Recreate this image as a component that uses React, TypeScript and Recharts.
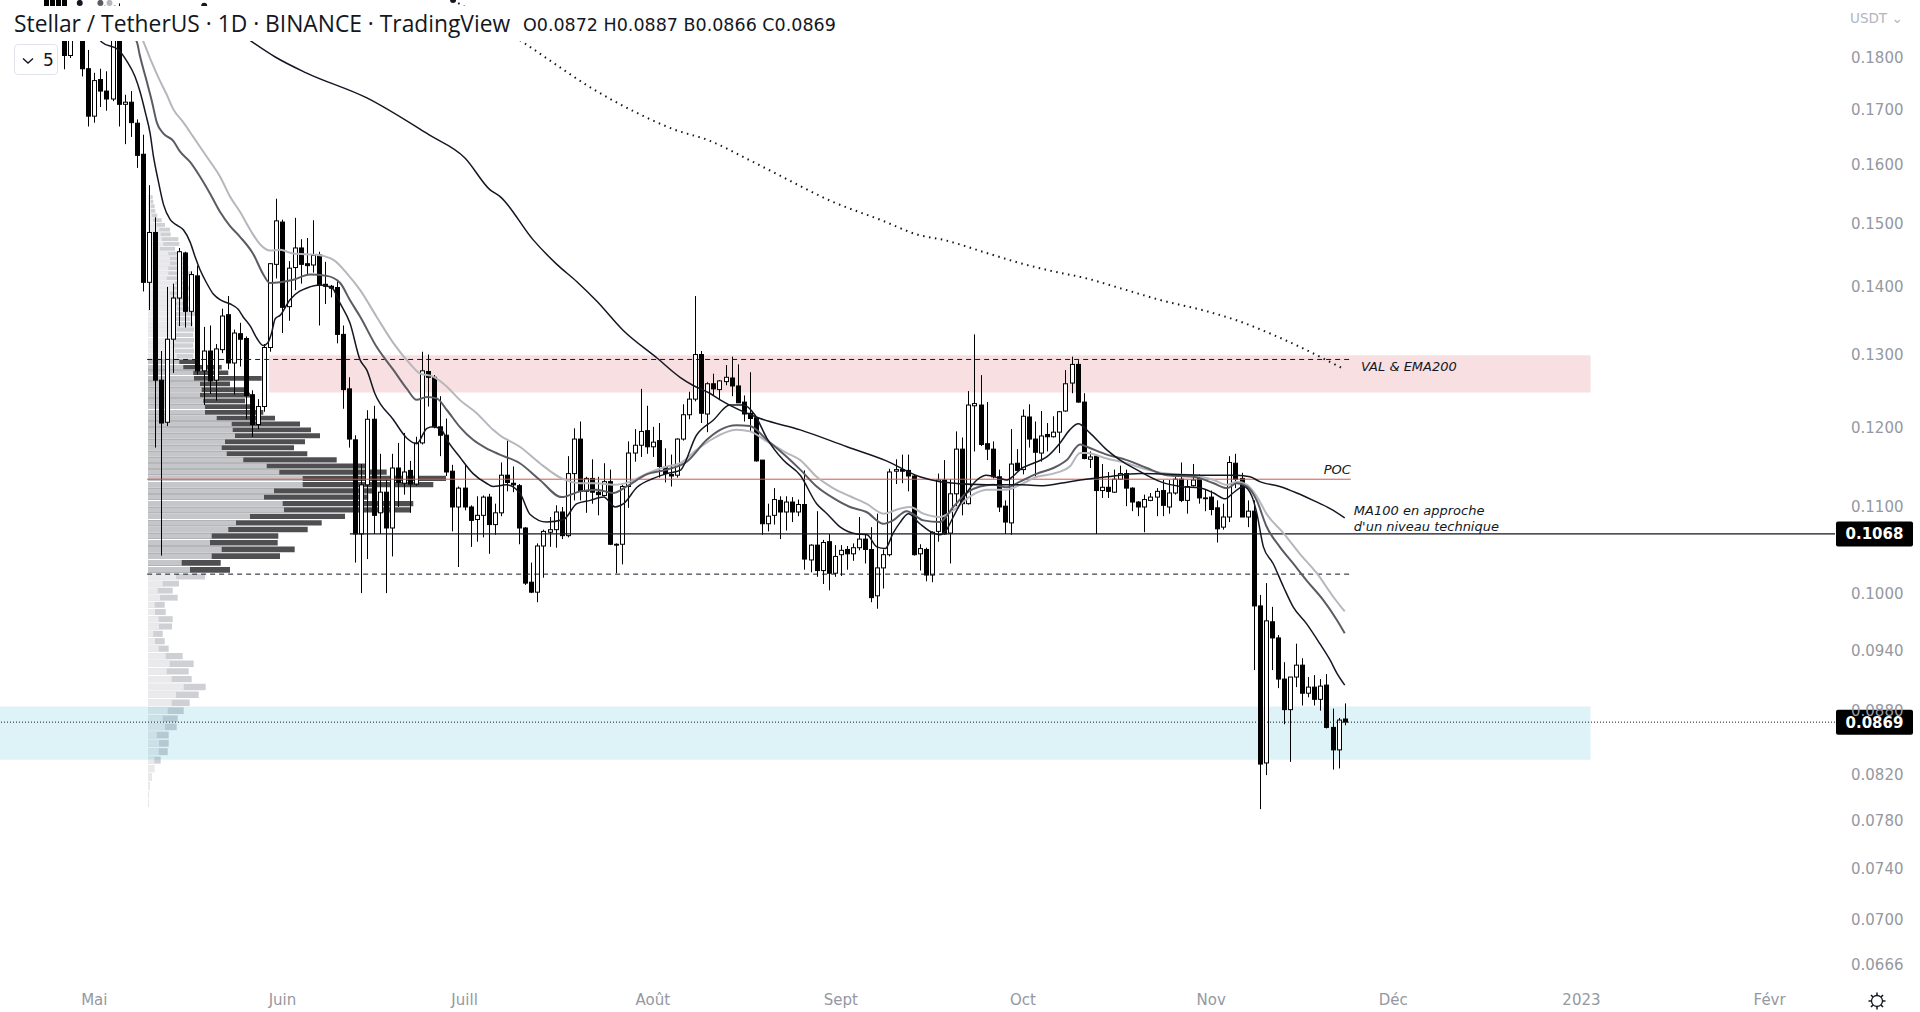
import React from 'react';
import { ComposedChart, Bar, Line, XAxis, YAxis, ReferenceArea, ReferenceLine, ReferenceDot } from 'recharts';

// ---------- DATA (days counted from 1 May 2022) ----------
const FIRST_DAY = -8;
const OPEN = [
  0.1990, 0.1995, 0.1985,
  0.1965, 0.1804, 0.1865, 0.1895, 0.1778,
  0.1688, 0.1757, 0.1735, 0.1720, 0.1895, 0.1710, 0.1714, 0.1675, 0.1619, 0.1407,
  0.1486, 0.1264, 0.1207, 0.1322, 0.1383, 0.1453, 0.1363, 0.1417, 0.1277, 0.1305,
  0.1264, 0.1307, 0.1358, 0.1288, 0.1330, 0.1323, 0.1244, 0.1204, 0.1228, 0.1310,
  0.1435, 0.1503, 0.1370, 0.1430, 0.1461, 0.1436, 0.1434, 0.1450, 0.1404, 0.1401,
  0.1399, 0.1329, 0.1252, 0.1184, 0.1068, 0.1127, 0.1211, 0.1093, 0.1118, 0.1075,
  0.1148, 0.1129, 0.1145, 0.1128, 0.1180, 0.1276, 0.1268, 0.1201, 0.1190, 0.1144,
  0.1100, 0.1123, 0.1100, 0.1085, 0.1090, 0.1112, 0.1079, 0.1093, 0.1139, 0.1129,
  0.1126, 0.1075, 0.1013, 0.1002, 0.1054, 0.1070, 0.1073, 0.1094, 0.1066, 0.1141,
  0.1185, 0.1119, 0.1135, 0.1118, 0.1114, 0.1131, 0.1056, 0.1056, 0.1125, 0.1167,
  0.1177, 0.1196, 0.1175, 0.1183, 0.1149, 0.1140, 0.1139, 0.1185, 0.1217, 0.1238,
  0.1300, 0.1218, 0.1259, 0.1251, 0.1262, 0.1267, 0.1256, 0.1234, 0.1219, 0.1213,
  0.1158, 0.1080, 0.1090, 0.1108, 0.1094, 0.1106, 0.1094, 0.1103, 0.1038, 0.1055,
  0.1026, 0.1059, 0.1023, 0.1044, 0.1050, 0.1045, 0.1052, 0.1062, 0.1050, 0.0998,
  0.1029, 0.1044, 0.1144, 0.1146, 0.1145, 0.1138, 0.1045, 0.1050, 0.1021, 0.1071,
  0.1133, 0.1069, 0.1116, 0.1172, 0.1104, 0.1229, 0.1230, 0.1179, 0.1172, 0.1137,
  0.1101, 0.1081, 0.1154, 0.1146, 0.1214, 0.1185, 0.1167, 0.1191, 0.1188, 0.1194,
  0.1222, 0.1260, 0.1286, 0.1234, 0.1159, 0.1163, 0.1120, 0.1124, 0.1118, 0.1134,
  0.1141, 0.1123, 0.1106, 0.1100, 0.1108, 0.1112, 0.1120, 0.1100, 0.1117, 0.1134,
  0.1108, 0.1126, 0.1135, 0.1111, 0.1112, 0.1099, 0.1076, 0.1088, 0.1154, 0.1135,
  0.1088, 0.1095, 0.0987, 0.0831, 0.0970, 0.0953, 0.0911, 0.0881, 0.0913, 0.0925,
  0.0897, 0.0903, 0.0891, 0.0905, 0.0864, 0.0843, 0.0872,
];
const HIGH = [
  0.2010, 0.2005, 0.2000,
  0.1990, 0.1885, 0.1903, 0.1900, 0.1815,
  0.1770, 0.1778, 0.1773, 0.1915, 0.1910, 0.1728, 0.1735, 0.1682, 0.1654, 0.1565,
  0.1511, 0.1305, 0.1400, 0.1405, 0.1461, 0.1455, 0.1424, 0.1433, 0.1340, 0.1342,
  0.1315, 0.1367, 0.1386, 0.1336, 0.1346, 0.1326, 0.1250, 0.1238, 0.1315, 0.1437,
  0.1542, 0.1507, 0.1440, 0.1510, 0.1475, 0.1477, 0.1506, 0.1455, 0.1439, 0.1403,
  0.1411, 0.1342, 0.1268, 0.1190, 0.1153, 0.1223, 0.1229, 0.1166, 0.1134, 0.1166,
  0.1180, 0.1193, 0.1157, 0.1188, 0.1304, 0.1300, 0.1271, 0.1242, 0.1212, 0.1152,
  0.1125, 0.1153, 0.1102, 0.1113, 0.1114, 0.1116, 0.1104, 0.1155, 0.1184, 0.1150,
  0.1128, 0.1076, 0.1035, 0.1057, 0.1073, 0.1088, 0.1102, 0.1100, 0.1163, 0.1199,
  0.1208, 0.1137, 0.1159, 0.1137, 0.1154, 0.1146, 0.1057, 0.1127, 0.1182, 0.1198,
  0.1252, 0.1229, 0.1201, 0.1206, 0.1173, 0.1165, 0.1186, 0.1231, 0.1248, 0.1386,
  0.1305, 0.1261, 0.1273, 0.1264, 0.1285, 0.1297, 0.1286, 0.1243, 0.1275, 0.1214,
  0.1158, 0.1104, 0.1123, 0.1113, 0.1113, 0.1112, 0.1109, 0.1145, 0.1056, 0.1095,
  0.1061, 0.1068, 0.1055, 0.1055, 0.1054, 0.1057, 0.1088, 0.1067, 0.1076, 0.1092,
  0.1050, 0.1147, 0.1159, 0.1165, 0.1165, 0.1139, 0.1056, 0.1052, 0.1071, 0.1141,
  0.1158, 0.1134, 0.1195, 0.1187, 0.1249, 0.1329, 0.1271, 0.1234, 0.1182, 0.1146,
  0.1108, 0.1198, 0.1172, 0.1224, 0.1231, 0.1208, 0.1222, 0.1206, 0.1215, 0.1222,
  0.1278, 0.1297, 0.1292, 0.1246, 0.1169, 0.1164, 0.1153, 0.1143, 0.1146, 0.1151,
  0.1146, 0.1124, 0.1107, 0.1115, 0.1117, 0.1123, 0.1133, 0.1133, 0.1139, 0.1155,
  0.1133, 0.1153, 0.1140, 0.1121, 0.1120, 0.1108, 0.1104, 0.1163, 0.1166, 0.1142,
  0.1108, 0.1108, 0.0999, 0.1012, 0.0986, 0.0956, 0.0928, 0.0913, 0.0947, 0.0932,
  0.0913, 0.0915, 0.0911, 0.0916, 0.0882, 0.0873, 0.0887,
];
const LOW = [
  0.1875, 0.1880, 0.1870,
  0.1777, 0.1799, 0.1850, 0.1763, 0.1669,
  0.1676, 0.1705, 0.1698, 0.1716, 0.1669, 0.1637, 0.1650, 0.1595, 0.1393, 0.1365,
  0.1174, 0.1043, 0.1202, 0.1274, 0.1341, 0.1339, 0.1341, 0.1272, 0.1230, 0.1245,
  0.1236, 0.1302, 0.1279, 0.1244, 0.1283, 0.1211, 0.1188, 0.1198, 0.1221, 0.1304,
  0.1413, 0.1331, 0.1349, 0.1395, 0.1405, 0.1420, 0.1422, 0.1342, 0.1374, 0.1384,
  0.1316, 0.1225, 0.1174, 0.1035, 0.1001, 0.1039, 0.1068, 0.1068, 0.1001, 0.1042,
  0.1100, 0.1115, 0.1093, 0.1126, 0.1178, 0.1228, 0.1199, 0.1163, 0.1138, 0.1071,
  0.1030, 0.1096, 0.1053, 0.1059, 0.1064, 0.1045, 0.1067, 0.1089, 0.1119, 0.1118,
  0.1056, 0.1010, 0.1001, 0.0991, 0.1018, 0.1053, 0.1052, 0.1062, 0.1064, 0.1108,
  0.1108, 0.1093, 0.1104, 0.1090, 0.1113, 0.1055, 0.1023, 0.1033, 0.1099, 0.1156,
  0.1162, 0.1166, 0.1162, 0.1136, 0.1130, 0.1125, 0.1136, 0.1183, 0.1211, 0.1235,
  0.1206, 0.1194, 0.1243, 0.1238, 0.1257, 0.1242, 0.1233, 0.1208, 0.1195, 0.1156,
  0.1067, 0.1071, 0.1079, 0.1062, 0.1072, 0.1082, 0.1089, 0.1027, 0.1024, 0.1019,
  0.1011, 0.1004, 0.1019, 0.1020, 0.1027, 0.1037, 0.1049, 0.1034, 0.0991, 0.0984,
  0.1006, 0.1042, 0.1128, 0.1129, 0.1119, 0.1043, 0.1026, 0.1014, 0.1013, 0.1059,
  0.1067, 0.1034, 0.1101, 0.1090, 0.1103, 0.1169, 0.1176, 0.1158, 0.1135, 0.1094,
  0.1068, 0.1067, 0.1144, 0.1140, 0.1174, 0.1137, 0.1156, 0.1169, 0.1187, 0.1167,
  0.1221, 0.1246, 0.1233, 0.1159, 0.1148, 0.1068, 0.1111, 0.1111, 0.1117, 0.1133,
  0.1101, 0.1095, 0.1089, 0.1070, 0.1107, 0.1089, 0.1089, 0.1092, 0.1115, 0.1106,
  0.1092, 0.1125, 0.1104, 0.1095, 0.1090, 0.1058, 0.1073, 0.1082, 0.1123, 0.1088,
  0.1076, 0.0920, 0.0790, 0.0820, 0.0920, 0.0902, 0.0867, 0.0832, 0.0903, 0.0885,
  0.0893, 0.0885, 0.0880, 0.0863, 0.0825, 0.0826, 0.0866,
];
const CLOSE = [
  0.1900, 0.1902, 0.1895,
  0.1804, 0.1865, 0.1895, 0.1778, 0.1688,
  0.1755, 0.1735, 0.1720, 0.1895, 0.1710, 0.1714, 0.1676, 0.1617, 0.1407, 0.1486,
  0.1264, 0.1206, 0.1322, 0.1383, 0.1455, 0.1363, 0.1419, 0.1277, 0.1305, 0.1263,
  0.1308, 0.1356, 0.1288, 0.1331, 0.1322, 0.1243, 0.1204, 0.1228, 0.1310, 0.1436,
  0.1505, 0.1369, 0.1429, 0.1461, 0.1435, 0.1433, 0.1449, 0.1403, 0.1401, 0.1398,
  0.1329, 0.1251, 0.1185, 0.1068, 0.1127, 0.1211, 0.1090, 0.1118, 0.1075, 0.1148,
  0.1130, 0.1143, 0.1128, 0.1180, 0.1277, 0.1268, 0.1201, 0.1190, 0.1143, 0.1100,
  0.1123, 0.1100, 0.1084, 0.1090, 0.1112, 0.1079, 0.1093, 0.1139, 0.1130, 0.1127,
  0.1075, 0.1012, 0.1002, 0.1054, 0.1071, 0.1073, 0.1094, 0.1066, 0.1141, 0.1185,
  0.1119, 0.1135, 0.1118, 0.1115, 0.1131, 0.1056, 0.1055, 0.1125, 0.1167, 0.1177,
  0.1195, 0.1175, 0.1181, 0.1150, 0.1141, 0.1138, 0.1185, 0.1217, 0.1238, 0.1300,
  0.1219, 0.1259, 0.1252, 0.1263, 0.1268, 0.1256, 0.1233, 0.1218, 0.1212, 0.1157,
  0.1080, 0.1089, 0.1109, 0.1094, 0.1106, 0.1094, 0.1103, 0.1039, 0.1055, 0.1026,
  0.1058, 0.1023, 0.1042, 0.1049, 0.1045, 0.1052, 0.1062, 0.1050, 0.0996, 0.1029,
  0.1044, 0.1143, 0.1146, 0.1144, 0.1138, 0.1044, 0.1051, 0.1021, 0.1070, 0.1133,
  0.1068, 0.1116, 0.1172, 0.1104, 0.1230, 0.1232, 0.1178, 0.1172, 0.1137, 0.1100,
  0.1082, 0.1153, 0.1145, 0.1215, 0.1185, 0.1168, 0.1189, 0.1188, 0.1194, 0.1221,
  0.1259, 0.1286, 0.1234, 0.1160, 0.1162, 0.1120, 0.1124, 0.1119, 0.1134, 0.1141,
  0.1123, 0.1106, 0.1100, 0.1109, 0.1112, 0.1119, 0.1102, 0.1117, 0.1134, 0.1108,
  0.1125, 0.1133, 0.1111, 0.1110, 0.1097, 0.1074, 0.1088, 0.1155, 0.1134, 0.1088,
  0.1095, 0.0987, 0.0830, 0.0971, 0.0953, 0.0911, 0.0881, 0.0913, 0.0925, 0.0897,
  0.0903, 0.0891, 0.0904, 0.0864, 0.0843, 0.0871, 0.0869,
];

// moving averages: [day, price]
const EMA_FAST: [number, number][] = [
  [-2.4,0.1911],[1.2,0.1831],[4.0,0.1815],[5.3,0.1794],[6.7,0.1763],[7.5,0.1735],[8.4,0.1695],[9.2,0.1656],[9.7,0.1618],[10.5,0.1574],[11.4,0.1532],[12.5,0.1507],[13.6,0.1498],[14.7,0.1490],[15.8,0.1470],[16.6,0.1447],[17.4,0.1427],[18.5,0.1406],[19.6,0.1389],[21.0,0.1379],[22.4,0.1374],[23.7,0.1366],[24.5,0.1355],[25.7,0.1341],[26.8,0.1323],[27.8,0.1313],[28.6,0.1317],[29.2,0.1331],[29.8,0.1352],[30.6,0.1357],[32.2,0.1380],[35.5,0.1400],[37.2,0.1403],[39.1,0.1399],[40.5,0.1375],[42.1,0.1346],[43.8,0.1292],[44.9,0.1278],[46.2,0.1246],[49.3,0.1210],[51.5,0.1186],[53.1,0.1179],[54.8,0.1199],[55.8,0.1201],[57.2,0.1197],[58.1,0.1184],[60.2,0.1162],[62.4,0.1141],[64.6,0.1129],[65.7,0.1125],[67.9,0.1127],[70.1,0.1117],[71.8,0.1091],[74.5,0.1082],[77.3,0.1085],[79.5,0.1104],[81.7,0.1108],[83.9,0.1112],[85.8,0.1100],[87.2,0.1104],[89.4,0.1124],[92.1,0.1135],[94.3,0.1141],[96.5,0.1145],[99.2,0.1190],[102.0,0.1210],[104.7,0.1230],[106.9,0.1230],[108.8,0.1217],[110.8,0.1186],[113.5,0.1158],[116.3,0.1139],[119.0,0.1104],[120.7,0.1092],[122.9,0.1076],[125.6,0.1068],[127.3,0.1067],[128.9,0.1053],[130.3,0.1051],[131.6,0.1069],[132.7,0.1081],[134.1,0.1092],[136.0,0.1080],[138.2,0.1069],[139.3,0.1067],[140.4,0.1073],[141.5,0.1088],[143.7,0.1117],[145.4,0.1133],[147.0,0.1139],[149.2,0.1135],[150.3,0.1133],[151.4,0.1138],[152.5,0.1146],[154.7,0.1154],[156.9,0.1162],[159.1,0.1180],[160.7,0.1197],[162.1,0.1205],[164.0,0.1193],[166.8,0.1171],[169.0,0.1158],[171.7,0.1146],[175.6,0.1131],[178.9,0.1125],[182.2,0.1123],[184.4,0.1117],[186.3,0.1110],[187.6,0.1117],[189.3,0.1125],[190.7,0.1113],[191.5,0.1093],[192.6,0.1053],[194.2,0.1034],[195.9,0.1008],[197.5,0.0986],[199.7,0.0968],[201.9,0.0947],[203.6,0.0930],[204.7,0.0917],[206.0,0.0905],
];
const EMA_MID: [number, number][] = [
  [1.0,0.1911],[7.0,0.1831],[7.5,0.1804],[8.6,0.1755],[9.5,0.1715],[10.3,0.1676],[11.4,0.1656],[13.0,0.1643],[14.1,0.1624],[15.8,0.1605],[17.4,0.1580],[19.1,0.1550],[20.7,0.1520],[22.4,0.1496],[24.0,0.1479],[26.2,0.1451],[27.8,0.1420],[28.9,0.1406],[30.6,0.1407],[32.8,0.1411],[35.5,0.1419],[38.3,0.1417],[40.5,0.1406],[42.1,0.1380],[43.8,0.1355],[46.5,0.1311],[49.3,0.1278],[51.5,0.1252],[53.1,0.1237],[54.8,0.1241],[56.4,0.1239],[58.1,0.1223],[60.2,0.1201],[62.4,0.1184],[64.6,0.1173],[66.8,0.1165],[70.1,0.1154],[73.4,0.1133],[77.0,0.1112],[80.0,0.1119],[82.8,0.1121],[85.5,0.1117],[87.7,0.1125],[91.0,0.1140],[94.3,0.1146],[97.6,0.1156],[100.9,0.1184],[103.1,0.1197],[105.8,0.1203],[108.0,0.1202],[110.8,0.1184],[114.1,0.1162],[116.3,0.1146],[119.0,0.1125],[121.7,0.1111],[124.5,0.1100],[127.2,0.1094],[130.0,0.1080],[131.6,0.1084],[133.8,0.1095],[136.6,0.1084],[139.3,0.1082],[141.5,0.1100],[143.7,0.1117],[145.9,0.1125],[148.1,0.1127],[150.3,0.1124],[152.5,0.1131],[155.3,0.1141],[158.0,0.1148],[160.2,0.1158],[162.4,0.1178],[163.5,0.1175],[166.8,0.1165],[170.1,0.1158],[173.4,0.1148],[176.7,0.1139],[181.1,0.1137],[184.4,0.1129],[186.6,0.1123],[188.2,0.1129],[189.9,0.1125],[191.5,0.1108],[193.1,0.1077],[195.3,0.1053],[197.5,0.1034],[199.7,0.1015],[202.5,0.0993],[204.7,0.0972],[206.0,0.0958],
];
const EMA_SLOW: [number, number][] = [
  [2.5,0.1911],[8.1,0.1831],[9.2,0.1798],[10.8,0.1755],[11.9,0.1729],[13.0,0.1701],[14.7,0.1676],[16.3,0.1650],[18.5,0.1615],[20.7,0.1580],[22.4,0.1545],[24.0,0.1520],[25.7,0.1490],[27.3,0.1467],[28.9,0.1457],[30.6,0.1458],[32.8,0.1452],[36.6,0.1450],[39.4,0.1442],[41.6,0.1421],[43.8,0.1395],[46.5,0.1355],[49.3,0.1316],[52.0,0.1287],[53.7,0.1273],[55.8,0.1269],[58.1,0.1255],[60.2,0.1237],[63.0,0.1219],[65.7,0.1197],[66.8,0.1190],[70.1,0.1175],[73.4,0.1154],[77.0,0.1135],[80.0,0.1129],[82.8,0.1129],[85.5,0.1127],[88.3,0.1131],[91.0,0.1141],[94.3,0.1150],[96.5,0.1154],[99.2,0.1171],[102.0,0.1186],[105.8,0.1197],[108.0,0.1195],[110.8,0.1182],[114.1,0.1167],[116.3,0.1158],[119.0,0.1137],[121.7,0.1123],[124.5,0.1113],[127.2,0.1104],[130.0,0.1092],[132.7,0.1098],[134.4,0.1100],[136.6,0.1092],[139.3,0.1088],[141.5,0.1096],[144.3,0.1113],[147.0,0.1121],[150.3,0.1121],[152.5,0.1127],[155.3,0.1137],[158.0,0.1141],[160.7,0.1150],[162.4,0.1167],[163.5,0.1167],[166.8,0.1160],[170.1,0.1154],[173.4,0.1146],[176.7,0.1141],[181.1,0.1139],[184.4,0.1133],[186.6,0.1127],[188.2,0.1131],[189.9,0.1127],[191.5,0.1113],[193.1,0.1092],[195.9,0.1069],[198.6,0.1045],[201.4,0.1023],[204.1,0.0997],[206.0,0.0981],
];
const MA100: [number, number][] = [
  [18.1,0.1905],[26.0,0.1831],[29.8,0.1801],[34.9,0.1770],[44.9,0.1722],[55.1,0.1654],[61.1,0.1612],[65.2,0.1557],[66.8,0.1546],[72.3,0.1474],[76.2,0.1435],[79.5,0.1408],[82.8,0.1378],[87.1,0.1335],[92.7,0.1295],[96.5,0.1268],[98.6,0.1257],[101.4,0.1246],[103.1,0.1237],[109.7,0.1212],[116.3,0.1197],[124.0,0.1175],[130.5,0.1157],[136.0,0.1137],[139.3,0.1131],[147.0,0.1127],[152.5,0.1127],[156.3,0.1126],[160.7,0.1131],[166.8,0.1137],[172.3,0.1141],[183.3,0.1139],[188.2,0.1139],[190.4,0.1137],[192.0,0.1131],[195.3,0.1125],[198.1,0.1117],[200.8,0.1108],[203.6,0.1098],[206.0,0.1087],
];
const EMA200: [number, number][] = [
  [59.1,0.1917],[70.8,0.1829],[75.2,0.1793],[81.3,0.1745],[89.4,0.1694],[95.4,0.1664],[101.4,0.1643],[107.5,0.1611],[113.6,0.1578],[121.6,0.1537],[129.7,0.1506],[135.8,0.1482],[139.9,0.1474],[147.0,0.1453],[152.5,0.1437],[158.0,0.1424],[163.5,0.1413],[169.0,0.1398],[175.6,0.1380],[183.3,0.1363],[188.7,0.1348],[194.3,0.1328],[198.6,0.1311],[203.0,0.1292],[206.0,0.1279],
];

// fixed-range volume profile, rows from top (0.1548) downwards, step 0.000773
const PROFILE_TOP = 0.1548;
const PROFILE_STEP = 0.000773;
const VALUE_AREA_ROWS = [33, 67];
const PROFILE_UP = [
  2.7,2.7,3.0,3.0,3.7,5.3,8.7,11.3,12.7,13.7,15.3,12.0,20.3,22.0,22.0,20.3,20.3,18.7,27.0,25.3,22.0,23.7,25.3,28.7,25.3,27.0,28.7,28.7,27.0,27.0,25.3,27.0,28.7,
  31.3,35.3,45.3,46.0,52.0,53.7,52.0,55.3,57.0,57.0,68.7,83.7,84.7,87.0,77.0,73.7,78.7,95.3,118.7,131.3,154.7,154.7,126.0,116.0,134.7,136.0,102.0,88.0,80.3,63.7,62.0,73.7,63.7,33.7,42.0,
  28.0,14.7,9.7,12.0,6.7,7.0,10.7,11.0,5.3,7.0,10.7,17.7,21.7,18.7,23.7,35.7,28.0,23.7,19.7,14.7,17.0,8.7,11.0,10.7,6.3,6.3,3.7,2.0,0.7,0.7,
];
const PROFILE_DOWN = [
  2.0,2.6,3.7,4.3,5.6,8.4,8.3,10.7,10.0,16.6,16.0,15.0,11.0,18.3,16.7,20.0,23.4,18.3,11.7,16.7,18.3,20.0,15.0,15.0,21.7,15.7,16.0,17.3,18.3,19.0,20.0,19.0,16.6,
  15.7,38.4,35.0,67.7,30.0,46.6,50.0,41.7,48.3,58.3,58.3,68.3,78.3,85.0,80.0,72.3,80.6,93.4,98.3,107.4,143.3,130.6,99.3,104.3,130.6,126.0,95.0,85.7,79.4,66.6,67.7,73.0,68.3,39.0,40.0,
  29.0,16.3,15.0,17.7,10.0,10.7,14.0,13.0,9.4,9.7,10.0,17.0,24.0,22.0,20.0,22.0,22.7,18.0,16.0,15.0,11.7,12.0,9.7,9.0,6.4,0,0,0,0,0,
];

// levels / zones / notes (price values, days)
const VAH = 0.1293, POC = 0.1134, VAL_LOW = 0.1022;
const PROFILE_RANGE = [8.7, 207.0];
const TECH_LEVEL = 0.1068;
const TECH_LEVEL_START = 42.1;
const PINK_ZONE = { d1: 28.8, d2: 246.5, p1: 0.1247, p2: 0.1299 };
const CYAN_ZONE = { d2: 246.5, p1: 0.0834, p2: 0.0884 };
const NOTES = [
  { text: 'VAL & EMA200', d: 208.7, p: 0.12838, anchor: 'start' },
  { text: 'POC', d: 207.0, p: 0.11468, anchor: 'end' },
  { text: 'MA100 en approche', d: 207.5, p: 0.10957, anchor: 'start' },
  { text: "d'un niveau technique", d: 207.5, p: 0.10768, anchor: 'start' },
];

const MONTH_TICKS = [0, 31, 61, 92, 123, 153, 184, 214, 245, 276];
const MONTH_LABELS = ['Mai', 'Juin', 'Juill', 'Août', 'Sept', 'Oct', 'Nov', 'Déc', '2023', 'Févr'];
const PRICE_TICKS = [0.18, 0.17, 0.16, 0.15, 0.14, 0.13, 0.12, 0.11, 0.10, 0.094, 0.088, 0.082, 0.078, 0.074, 0.070, 0.0666];
const PRICE_DOMAIN: [number, number] = [0.065155, 0.191706];
const DAY_DOMAIN: [number, number] = [-15.54, 286.77];

// ---------- build tables ----------
const candles = OPEN.map((o, i) => ({
  d: FIRST_DAY + i, open: o, high: HIGH[i], low: LOW[i], close: CLOSE[i], range: [LOW[i], HIGH[i]],
}));
const toPts = (arr: [number, number][]) => arr.map(([d, v]) => ({ d, v }));
const last = candles[candles.length - 1];

const W = 1920, H = 1012, AXIS_W = 85, AXIS_H = 27;
const FONT = '"DejaVu Sans", sans-serif';

const Candle = (props: any) => {
  const { x, y, width, height } = props;
  const e = props.payload || props;
  if (![x, y, width, height].every((v: any) => Number.isFinite(v)) || !e || e.high == null) return null;
  const top = Math.min(y, y + height), bot = Math.max(y, y + height);
  const lh = Math.log(e.high), ll = Math.log(e.low);
  const span = lh - ll || 1;
  const py = (p: number) => top + ((lh - Math.log(p)) / span) * (bot - top);
  const cx = Math.round(x + width / 2);
  const yo = py(e.open), yc = py(e.close);
  const upCandle = e.close >= e.open;
  const bt = Math.min(yo, yc), bb = Math.max(yo, yc);
  return (
    <g>
      <line x1={cx + 0.5} x2={cx + 0.5} y1={top} y2={bot} stroke="#000" strokeWidth={1} />
      <rect x={cx - 1.5} y={bt} width={4} height={Math.max(bb - bt, 0.8)} fill={upCandle ? '#fff' : '#000'} stroke="#000" strokeWidth={1} />
    </g>
  );
};

const priceTag = (text: string) => (props: any) => {
  const vb = props.viewBox || {};
  const left = vb.x + vb.width + 1;
  const cy = vb.y + (vb.height || 0) / 2;
  return (
    <g>
      <rect x={left} y={cy - 12.5} width={77} height={25} rx={2} fill="#000" />
      <text x={left + 38.5} y={cy} dy="0.36em" textAnchor="middle" fill="#fff" fontSize={15} fontWeight={700} fontFamily={FONT}>{text}</text>
    </g>
  );
};

const noteLabel = (text: string, anchor: string) => (props: any) => {
  const vb = props.viewBox || {};
  const x = vb.x + (vb.width || 0) / 2;
  const y = vb.y + (vb.height || 0) / 2;
  return (
    <text x={x} y={y} dy="0.36em" textAnchor={anchor as any} fill="#131722" fontSize={13} fontStyle="italic" fontFamily={FONT}>{text}</text>
  );
};

const profileRows = PROFILE_UP.map((up, i) => {
  const hi = PROFILE_TOP - i * PROFILE_STEP;
  const lo = hi - PROFILE_STEP;
  const inVA = i >= VALUE_AREA_ROWS[0] && i <= VALUE_AREA_ROWS[1];
  return { i, hi, lo, up, down: PROFILE_DOWN[i], inVA };
});

const ProfileChart = () => (
  <ComposedChart width={320} height={H} data={profileRows.map((r) => ({ v: r.up + r.down, p: (r.hi + r.lo) / 2 }))} margin={{ top: 0, right: 0, bottom: AXIS_H, left: 0 }}>
    <XAxis type="number" dataKey="v" domain={[0, 320]} hide allowDataOverflow />
    <YAxis type="number" dataKey="p" scale="log" domain={PRICE_DOMAIN} hide allowDataOverflow />
    {profileRows.map((r) => (
      <ReferenceArea key={'t' + r.i} x1={0} x2={r.up + r.down} y1={r.lo + PROFILE_STEP * 0.17} y2={r.hi} fill={r.inVA ? '#4f4f52' : '#cfd0d4'} fillOpacity={1} stroke="none" ifOverflow="visible" />
    ))}
    {profileRows.map((r) => (
      <ReferenceArea key={'u' + r.i} x1={0} x2={r.up} y1={r.lo + PROFILE_STEP * 0.17} y2={r.hi} fill={r.inVA ? '#c5c6ca' : '#eaeaec'} fillOpacity={1} stroke="none" ifOverflow="visible" />
    ))}
  </ComposedChart>
);

const Gear = () => (
  <svg width={22} height={22} viewBox="0 0 22 22" style={{ position: 'absolute', left: 1866, top: 990 }}>
    <circle cx={11} cy={11} r={5.5} fill="none" stroke="#131722" strokeWidth={1.3} />
    {[0, 45, 90, 135, 180, 225, 270, 315].map((a) => {
      const r = (a * Math.PI) / 180;
      return <line key={a} x1={11 + Math.cos(r) * 5.5} y1={11 + Math.sin(r) * 5.5} x2={11 + Math.cos(r) * 8.5} y2={11 + Math.sin(r) * 8.5} stroke="#131722" strokeWidth={1.5} />;
    })}
  </svg>
);

export default function App() {
  return (
    <div style={{ position: 'absolute', left: 0, top: 0, width: W, height: H, background: '#fff', overflow: 'hidden' }}>
      <div style={{ position: 'absolute', left: 148, top: 0 }}>
        <ProfileChart />
      </div>
      <div style={{ position: 'absolute', left: 0, top: 0 }}>
        <ComposedChart width={W} height={H} data={candles} margin={{ top: 0, right: 0, bottom: 0, left: 0 }}>
          <XAxis dataKey="d" type="number" domain={DAY_DOMAIN} allowDataOverflow ticks={MONTH_TICKS} interval={0}
            tickFormatter={(v: number) => MONTH_LABELS[MONTH_TICKS.indexOf(v)] ?? ''}
            axisLine={false} tickLine={false} tickSize={0} tickMargin={9} height={AXIS_H}
            tick={{ fill: '#9598a1', fontSize: 15, fontFamily: FONT }} />
          <YAxis orientation="right" type="number" scale="log" domain={PRICE_DOMAIN} allowDataOverflow ticks={PRICE_TICKS} interval={0}
            tickFormatter={(v: number) => v.toFixed(4)} axisLine={false} tickLine={false} tickSize={0} tickMargin={16} width={AXIS_W}
            tick={{ fill: '#9598a1', fontSize: 15, fontFamily: FONT }} />

          <ReferenceArea x1={PINK_ZONE.d1} x2={PINK_ZONE.d2} y1={PINK_ZONE.p1} y2={PINK_ZONE.p2} fill="rgb(210,40,60)" fillOpacity={0.15} stroke="none" ifOverflow="hidden" />
          <ReferenceArea x1={DAY_DOMAIN[0]} x2={CYAN_ZONE.d2} y1={CYAN_ZONE.p1} y2={CYAN_ZONE.p2} fill="rgb(0,165,200)" fillOpacity={0.13} stroke="none" ifOverflow="hidden" />

          <ReferenceLine segment={[{ x: PROFILE_RANGE[0], y: VAH }, { x: PROFILE_RANGE[1], y: VAH }]} stroke="#131722" strokeDasharray="5 4" strokeWidth={1} />
          <ReferenceLine segment={[{ x: PROFILE_RANGE[0], y: VAL_LOW }, { x: PROFILE_RANGE[1], y: VAL_LOW }]} stroke="#131722" strokeDasharray="5 4" strokeWidth={1} />
          <ReferenceLine segment={[{ x: PROFILE_RANGE[0], y: POC }, { x: PROFILE_RANGE[1], y: POC }]} stroke="#d4574a" strokeWidth={1} />
          <ReferenceLine segment={[{ x: TECH_LEVEL_START, y: TECH_LEVEL }, { x: DAY_DOMAIN[1], y: TECH_LEVEL }]} stroke="#131722" strokeWidth={1.2} label={priceTag(TECH_LEVEL.toFixed(4))} />
          <ReferenceLine y={last.close} stroke="#131722" strokeDasharray="1 2" strokeWidth={1} label={priceTag(last.close.toFixed(4))} />

          <Bar dataKey="range" barSize={5} shape={Candle} isAnimationActive={false} />

          <Line data={toPts(EMA_SLOW)} dataKey="v" type="monotone" stroke="#b6b7bd" strokeWidth={2} dot={false} isAnimationActive={false} />
          <Line data={toPts(EMA_MID)} dataKey="v" type="monotone" stroke="#5b5c63" strokeWidth={2} dot={false} isAnimationActive={false} />
          <Line data={toPts(EMA_FAST)} dataKey="v" type="monotone" stroke="#131722" strokeWidth={1.5} dot={false} isAnimationActive={false} />
          <Line data={toPts(MA100)} dataKey="v" type="monotone" stroke="#131722" strokeWidth={1.5} dot={false} isAnimationActive={false} />
          <Line data={toPts(EMA200)} dataKey="v" type="monotone" stroke="#131722" strokeWidth={2} strokeDasharray="1.5 4.5" dot={false} isAnimationActive={false} />

          {NOTES.map((n) => (
            <ReferenceDot key={n.text} x={n.d} y={n.p} r={1} fill="none" stroke="none" ifOverflow="visible" label={noteLabel(n.text, n.anchor)} />
          ))}
        </ComposedChart>
      </div>

      {/* legend band */}
      <div style={{ position: 'absolute', left: 0, top: 6, width: 850, height: 35, background: '#fff' }} />
      <div style={{ position: 'absolute', left: 14, top: 9, fontFamily: '"Open Sans", sans-serif', fontSize: 22.8, lineHeight: '30px', color: '#131722', whiteSpace: 'nowrap' }}>
        Stellar / TetherUS · 1D · BINANCE · TradingView
      </div>
      <div style={{ position: 'absolute', left: 523, top: 12, fontFamily: FONT, fontSize: 17.5, lineHeight: '26px', color: '#131722', whiteSpace: 'nowrap' }}>
        {`O${last.open.toFixed(4)} H${last.high.toFixed(4)} B${last.low.toFixed(4)} C${last.close.toFixed(4)}`}
      </div>
      <div style={{ position: 'absolute', left: 14, top: 44, width: 44, height: 31, boxSizing: 'border-box', border: '1px solid #e0e3eb', borderRadius: 4, background: '#fff' }}>
        <svg width={12} height={8} style={{ position: 'absolute', left: 7, top: 12 }}>
          <polyline points="1,1.5 6,6 11,1.5" fill="none" stroke="#131722" strokeWidth={1.4} />
        </svg>
        <span style={{ position: 'absolute', left: 28, top: 3, fontFamily: FONT, fontSize: 17, lineHeight: '24px', color: '#131722' }}>5</span>
      </div>
      <div style={{ position: 'absolute', left: 1850, top: 9, fontFamily: FONT, fontSize: 13.5, lineHeight: '18px', color: '#b2b5be', whiteSpace: 'nowrap' }}>
        USDT ⌄
      </div>
      <Gear />
    </div>
  );
}
